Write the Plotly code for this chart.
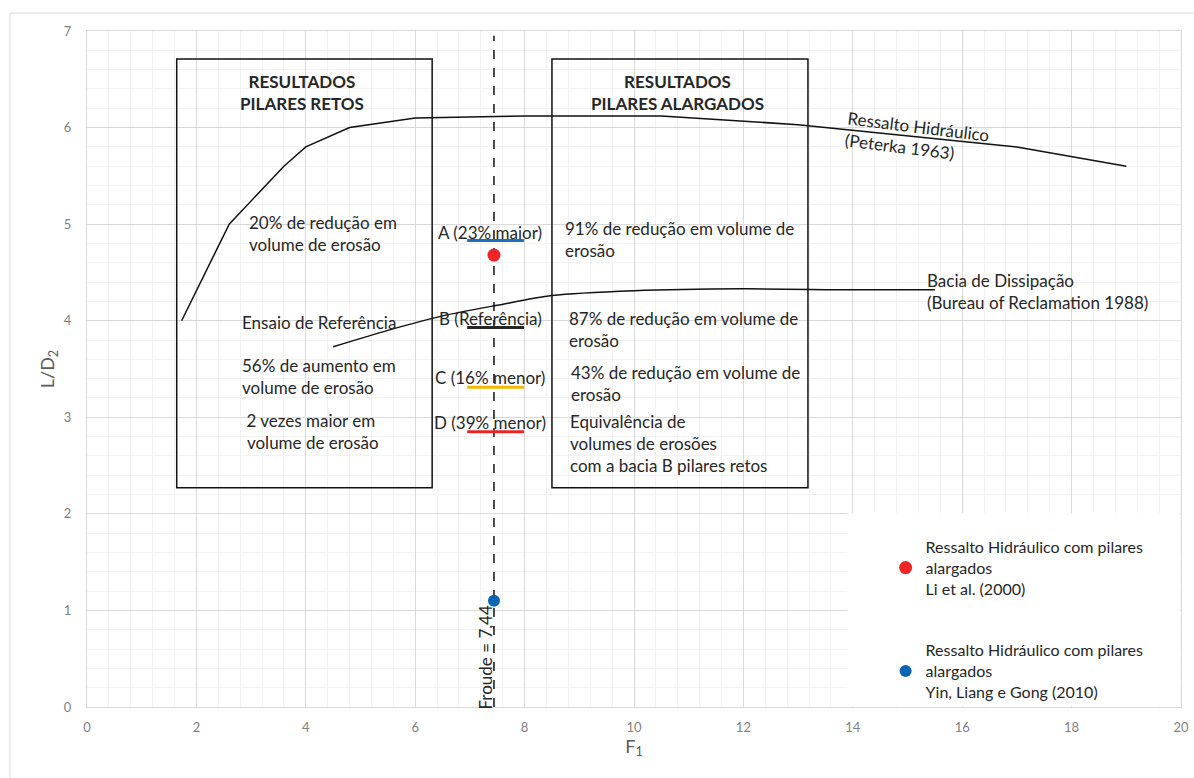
import plotly.graph_objects as go

# ---- data ----
F_peterka = [1.73, 2.6, 3.6, 4.0, 4.8, 6.0, 8.0, 10.5, 13.0, 17.0, 19.0]
LD_peterka = [4.0, 5.0, 5.6, 5.8, 6.0, 6.1, 6.12, 6.12, 6.03, 5.8, 5.6]

F_bureau = [4.5, 5.5, 6.5, 7.5, 8.5, 10.0, 12.0, 14.0, 15.5]
LD_bureau = [3.73, 3.9, 4.05, 4.16, 4.26, 4.31, 4.33, 4.32, 4.32]

froude = 7.44
froude_LD = [0, 6.95]

li_F = [7.44]
li_LD = [4.68]
yin_F = [7.44]
yin_LD = [1.10]

basin_names = ["A (23% maior)", "B (Referência)", "C (16% menor)", "D (39% menor)"]
basin_LD = [4.83, 3.93, 3.31, 2.85]
basin_F = [6.95, 7.99]
basin_colors = ["#1f6fbf", "#262626", "#f5b800", "#e8262a"]

FONT = "Lato"
TXT = "#262626"
GRAY = "#7f7f7f"

fig = go.Figure()

fig.add_trace(go.Scatter(x=F_peterka, y=LD_peterka, mode="lines",
                         line=dict(color="#111111", width=1.5), showlegend=False,
                         hoverinfo="skip"))
fig.add_trace(go.Scatter(x=F_bureau, y=LD_bureau, mode="lines",
                         line=dict(color="#111111", width=1.5, shape="spline", smoothing=0.8),
                         showlegend=False, hoverinfo="skip"))
fig.add_trace(go.Scatter(x=[froude, froude], y=froude_LD, mode="lines",
                         line=dict(color="#111111", width=1.5, dash="dash"),
                         showlegend=False, hoverinfo="skip"))

for name, ld, col in zip(basin_names, basin_LD, basin_colors):
    fig.add_trace(go.Scatter(x=basin_F, y=[ld, ld], mode="lines",
                             line=dict(color=col, width=3), showlegend=False,
                             name=name, hoverinfo="skip"))

fig.add_trace(go.Scatter(x=li_F, y=li_LD, mode="markers",
                         marker=dict(color="#ee2428", size=13),
                         name="Ressalto Hidráulico com pilares<br>alargados<br>Li et al. (2000)",
                         legendgroup="li"))
fig.add_trace(go.Scatter(x=yin_F, y=yin_LD, mode="markers",
                         marker=dict(color="#0a64b4", size=12),
                         name="Ressalto Hidráulico com pilares<br>alargados<br>Yin, Liang e Gong (2010)",
                         legendgroup="yin"))

# result boxes
for x0, x1 in [(1.64, 6.31), (8.50, 13.18)]:
    fig.add_shape(type="rect", x0=x0, x1=x1, y0=2.27, y1=6.71, xref="x", yref="y",
                  line=dict(color="#111111", width=1.5), fillcolor="rgba(0,0,0,0)")

# white legend area covering grid
fig.add_shape(type="rect", x0=13.9, x1=19.98, y0=0.01, y1=2.01, xref="x", yref="y",
              line=dict(width=0), fillcolor="white", layer="between")

# chart outer border (top and left)
fig.add_shape(type="line", xref="paper", yref="paper", x0=-0.0704, x1=1.02,
              y0=1.0266, y1=1.0266, line=dict(color="#d9d9d9", width=1))
fig.add_shape(type="line", xref="paper", yref="paper", x0=-0.0704, x1=-0.0704,
              y0=1.0266, y1=-0.11, line=dict(color="#d9d9d9", width=1))

def ann(text, x, y, xanchor="center", align="center", **kw):
    fig.add_annotation(text=text, x=x, y=y, xref="x", yref="y", showarrow=False,
                       xanchor=xanchor, yanchor="middle", align=align,
                       font=dict(family=FONT, size=kw.pop("size", 17), color=TXT), **kw)

ann("<b>RESULTADOS</b><br><b>PILARES RETOS</b>", 3.93, 6.36)
ann("<b>RESULTADOS</b><br><b>PILARES ALARGADOS</b>", 10.79, 6.36)
ann("20% de redução em<br>volume de erosão", 2.93, 4.90, xanchor="left", align="left")
ann("Ensaio de Referência", 2.80, 3.98, xanchor="left", align="left")
ann("56% de aumento em<br>volume de erosão", 2.80, 3.42, xanchor="left", align="left")
ann("2 vezes maior em<br> volume de erosão", 4.10, 2.85)
for name, ly in zip(basin_names, [4.91, 4.02, 3.41, 2.95]):
    ann(name, 7.37, ly)
ann("91% de redução em volume de<br>erosão", 8.70, 4.84, xanchor="left", align="left")
ann("87% de redução em volume de<br>erosão", 8.77, 3.91, xanchor="left", align="left")
ann("43% de redução em volume de<br>erosão", 8.81, 3.35, xanchor="left", align="left")
ann("Equivalência de<br>volumes de erosões<br>com a bacia B pilares retos", 8.79, 2.73,
    xanchor="left", align="left")
ann("Ressalto Hidráulico<br>(Peterka 1963)", 15.18, 5.90, align="left", textangle=7)
ann("Bacia de Dissipação<br>(Bureau of Reclamation 1988)", 15.32, 4.30,
    xanchor="left", align="left")
ann("Froude = 7,44", 7.29, 0.51, textangle=-90)

fig.update_layout(
    width=1194, height=778,
    margin=dict(l=87, r=13, t=31, b=71, autoexpand=False),
    paper_bgcolor="white", plot_bgcolor="white",
    font=dict(family=FONT, color=TXT),
    showlegend=True,
    legend=dict(x=0.730, y=0.262, xanchor="left", yanchor="top",
                bgcolor="rgba(0,0,0,0)", traceorder="grouped", tracegroupgap=38,
                font=dict(family=FONT, size=16, color=TXT)),
    xaxis=dict(range=[0, 20], dtick=2, showgrid=True, gridcolor="#d9d9d9",
               minor=dict(dtick=0.4, showgrid=True, gridcolor="#f2f2f2"),
               showline=True, linecolor="#d9d9d9", mirror=True, zeroline=False,
               automargin=False,
               tickfont=dict(family=FONT, size=13, color=GRAY), ticklabelstandoff=8,
               title=dict(text="F<sub>1</sub>", font=dict(family=FONT, size=18, color="#595959"),
                          standoff=4)),
    yaxis=dict(range=[0, 7], dtick=1, showgrid=True, gridcolor="#d9d9d9",
               minor=dict(dtick=0.2, showgrid=True, gridcolor="#f2f2f2"),
               showline=True, linecolor="#d9d9d9", mirror=True, zeroline=False,
               automargin=False,
               tickfont=dict(family=FONT, size=13, color=GRAY), ticklabelstandoff=12,
               title=dict(text="L/D<sub>2</sub>", font=dict(family=FONT, size=18, color="#595959"),
                          standoff=4)),
)

fig.write_html("out.html")
